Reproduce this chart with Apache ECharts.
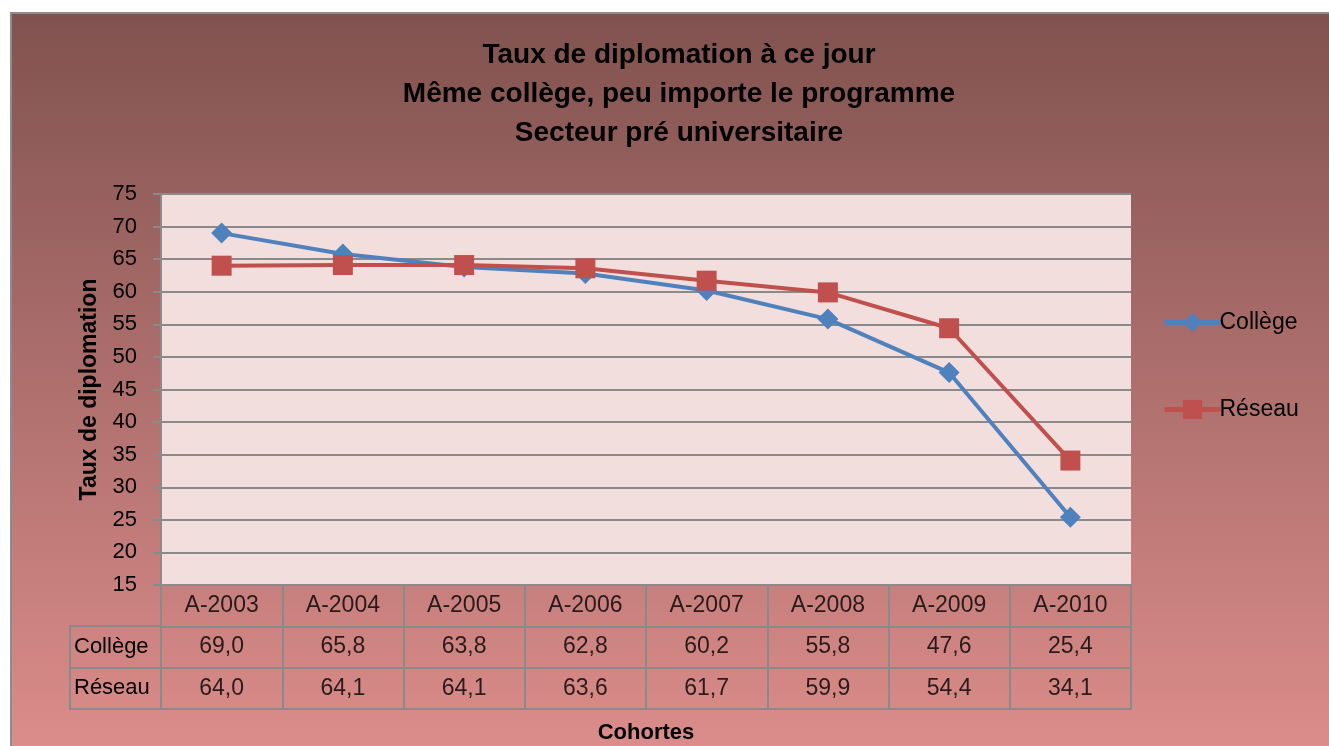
<!DOCTYPE html>
<html>
<head>
<meta charset="utf-8">
<script src="https://cdn.jsdelivr.net/npm/echarts@6/dist/echarts.min.js"></script>
<style>
html,body{margin:0;padding:0;background:#fff;}
#chart{width:1329px;height:746px;}
</style>
</head>
<body>
<div id="chart"></div>
<script>
var cohortes = ['A-2003', 'A-2004', 'A-2005', 'A-2006', 'A-2007', 'A-2008', 'A-2009', 'A-2010'];
var college = [69.0, 65.8, 63.8, 62.8, 60.2, 55.8, 47.6, 25.4];
var reseau = [64.0, 64.1, 64.1, 63.6, 61.7, 59.9, 54.4, 34.1];
var rowNames = ['Collège', 'Réseau'];
var yTicks = {min: 15, max: 75, interval: 5};

var chart = echarts.init(document.getElementById('chart'));
var font = 'Liberation Sans';
var gridColor = '#8a8a8a';

// cellules du tableau de données
var headerCells = cohortes.map(function (c) { return [c, 'hdr', c]; });
var valueCells = [];
cohortes.forEach(function (c, i) {
	valueCells.push([c, rowNames[0], college[i]]);
	valueCells.push([c, rowNames[1], reseau[i]]);
});
function fmt(v) { return v.toFixed(1).replace('.', ','); }

var option = {
	textStyle: {fontFamily: font},
	graphic: [{
		type: 'rect',
		z: -10,
		shape: {x: 11, y: 13, width: 1330, height: 740},
		style: {
			fill: new echarts.graphic.LinearGradient(0, 0, 0, 1, [
				{offset: 0, color: '#80524f'},
				{offset: 1, color: '#dc8d8b'}
			]),
			stroke: '#8c8c8c',
			lineWidth: 2
		}
	}],
	title: {
		text: 'Taux de diplomation à ce jour\nMême collège, peu importe le programme\nSecteur pré universitaire',
		left: 674,
		textAlign: 'center',
		top: 31,
		textStyle: {fontFamily: font, fontSize: 28, fontWeight: 'bold', color: '#000', lineHeight: 39}
	},
	legend: {
		orient: 'vertical',
		left: 1157,
		top: 306,
		itemGap: 64,
		itemWidth: 56,
		itemHeight: 24,
		data: ['Collège', 'Réseau'],
		lineStyle: {width: 5},
		textStyle: {fontFamily: font, fontSize: 23, color: '#000', padding: [0, 0, 0, -6]}
	},
	grid: [
		{left: 161, top: 194, width: 970, height: 391, show: true, backgroundColor: '#f2dedd', borderWidth: 0, outerBoundsMode: 'none'},
		{left: 161, top: 585, width: 970, height: 124, show: true, borderColor: gridColor, borderWidth: 2, outerBoundsMode: 'none'},
		{left: 70, top: 626, width: 91, height: 83, show: true, borderColor: gridColor, borderWidth: 2, outerBoundsMode: 'none'}
	],
	xAxis: [
		{
			gridIndex: 0, type: 'category', data: cohortes, boundaryGap: true,
			name: 'Cohortes', nameLocation: 'middle', nameGap: 137,
			nameTextStyle: {fontFamily: font, fontSize: 22, fontWeight: 'bold', color: '#000'},
			axisLine: {lineStyle: {color: gridColor, width: 2}},
			axisTick: {show: false},
			axisLabel: {show: false}
		},
		{
			gridIndex: 1, type: 'category', data: cohortes, boundaryGap: true,
			axisLine: {show: false}, axisTick: {show: false}, axisLabel: {show: false},
			splitLine: {show: true, interval: 0, lineStyle: {color: gridColor, width: 2}}
		},
		{gridIndex: 2, type: 'value', show: false}
	],
	yAxis: [
		{
			gridIndex: 0, type: 'value', min: yTicks.min, max: yTicks.max, interval: yTicks.interval,
			name: 'Taux de diplomation', nameLocation: 'middle', nameGap: 58,
			nameTextStyle: {fontFamily: font, fontSize: 23, fontWeight: 'bold', color: '#000'},
			axisLine: {show: true, lineStyle: {color: gridColor, width: 2}},
			axisTick: {show: true, length: 8, lineStyle: {color: gridColor, width: 2}},
			axisLabel: {fontFamily: font, fontSize: 22, color: '#000', margin: 24},
			splitLine: {lineStyle: {color: gridColor, width: 2}}
		},
		{
			gridIndex: 1, type: 'category', data: ['hdr'].concat(rowNames), inverse: true,
			axisLine: {show: false}, axisTick: {show: false}, axisLabel: {show: false},
			splitLine: {show: true, interval: 0, lineStyle: {color: gridColor, width: 2}}
		},
		{
			gridIndex: 2, type: 'category', data: rowNames, inverse: true,
			axisLine: {show: false}, axisTick: {show: false},
			axisLabel: {inside: true, margin: 4, fontFamily: font, fontSize: 22, color: '#000'},
			splitLine: {show: true, interval: 0, lineStyle: {color: gridColor, width: 2}}
		}
	],
	series: [
		{
			name: 'Collège', type: 'line', xAxisIndex: 0, yAxisIndex: 0,
			data: college,
			symbol: 'diamond', symbolSize: 21,
			lineStyle: {color: '#4f81bd', width: 4},
			itemStyle: {color: '#4f81bd'}
		},
		{
			name: 'Réseau', type: 'line', xAxisIndex: 0, yAxisIndex: 0,
			data: reseau,
			symbol: 'rect', symbolSize: 20,
			lineStyle: {color: '#c0504d', width: 4},
			itemStyle: {color: '#c0504d'}
		},
		{
			type: 'scatter', xAxisIndex: 1, yAxisIndex: 1, symbolSize: 0, silent: true,
			data: headerCells,
			label: {show: true, position: 'inside', fontFamily: font, fontSize: 23, color: '#000',
				formatter: function (p) { return p.value[2]; }}
		},
		{
			type: 'scatter', xAxisIndex: 1, yAxisIndex: 1, symbolSize: 0, silent: true,
			data: valueCells,
			label: {show: true, position: 'inside', fontFamily: font, fontSize: 23, color: '#000',
				formatter: function (p) { return fmt(p.value[2]); }}
		}
	]
};
chart.setOption(option);
</script>
</body>
</html>
